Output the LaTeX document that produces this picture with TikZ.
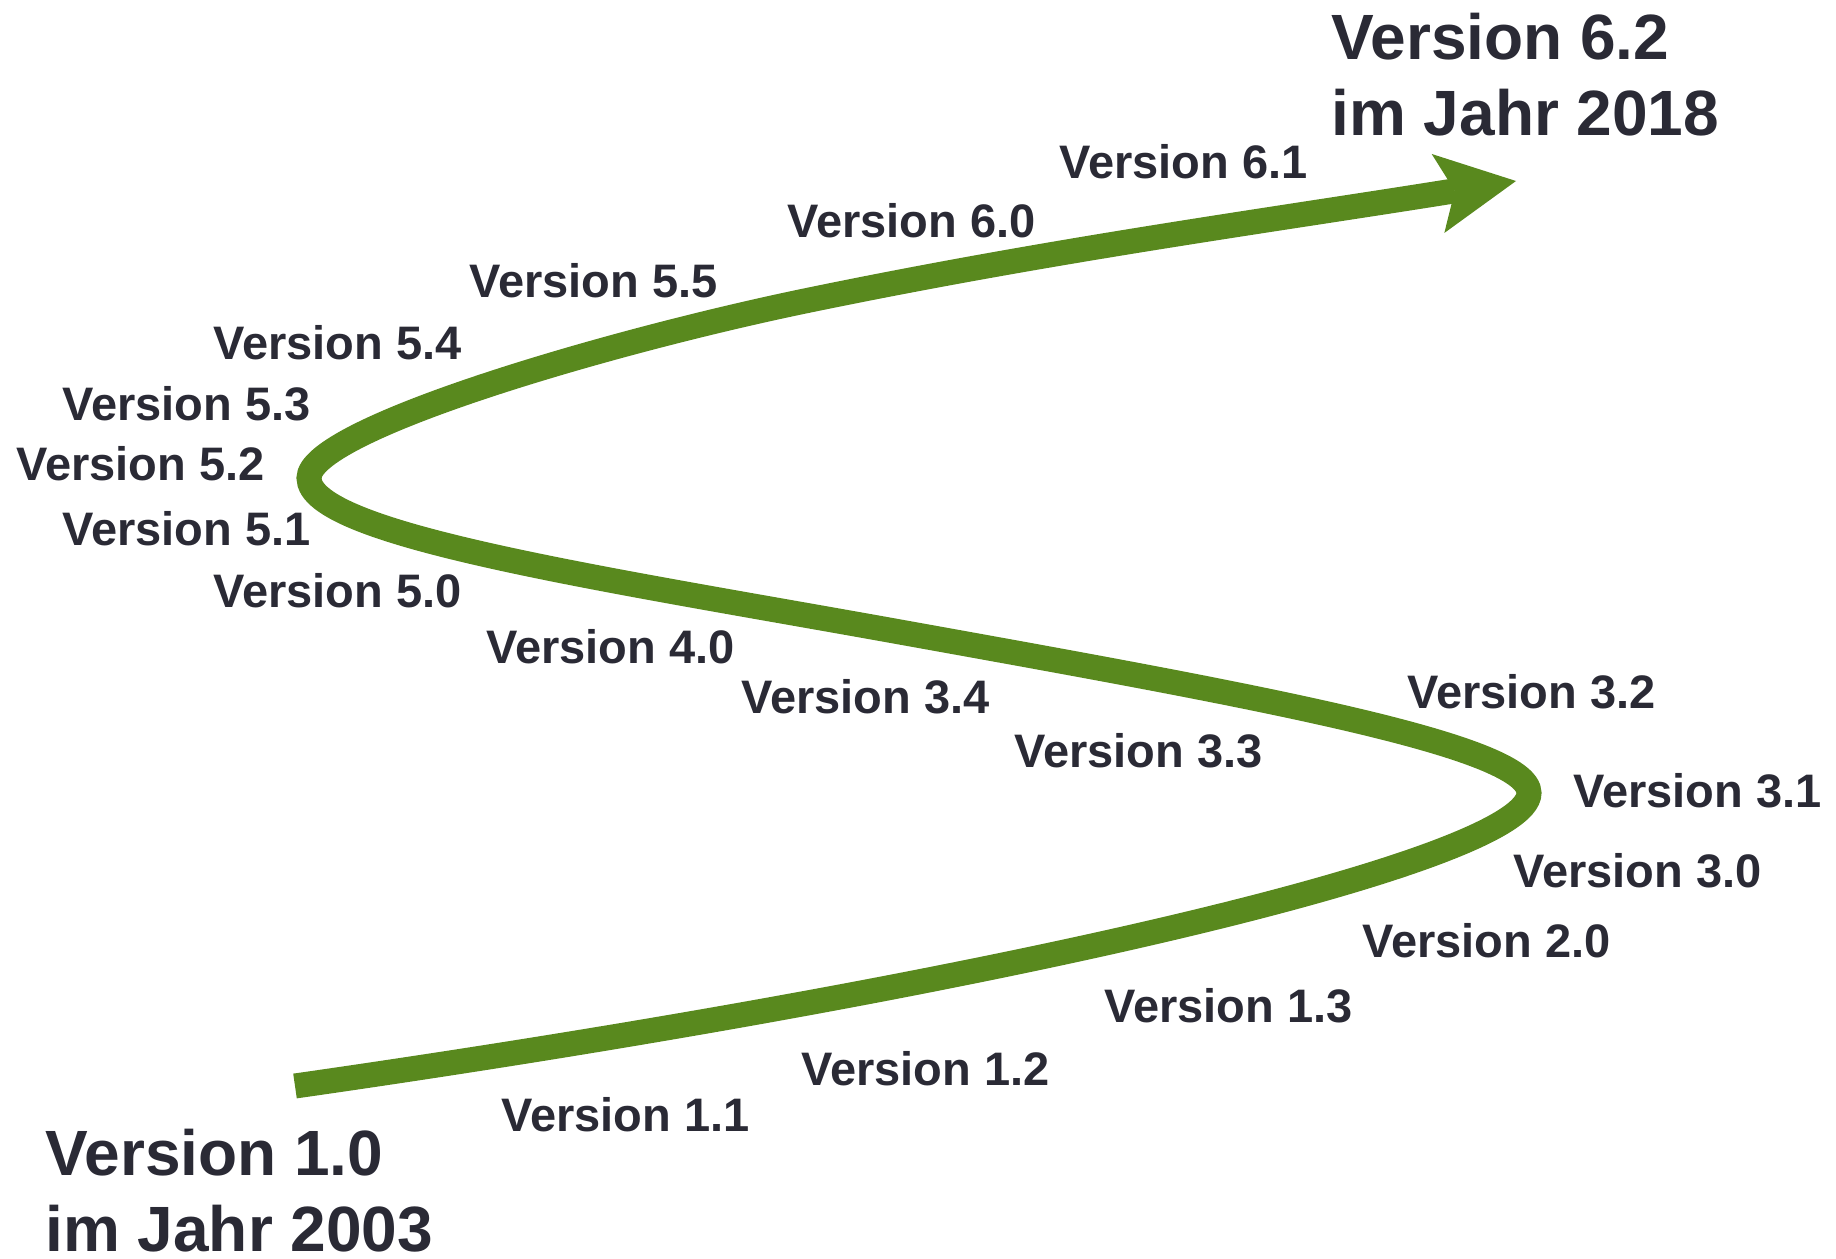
\documentclass[tikz,border=0pt]{standalone}
\usepackage{fontspec}
\setmainfont{Liberation Sans}
\usetikzlibrary{arrows.meta}
\definecolor{trackgreen}{RGB}{89,137,30}
\definecolor{labelink}{RGB}{42,42,53}
\begin{document}
\begin{tikzpicture}[x=0.5pt, y=-0.5pt,
    ver/.style={anchor=base west, inner sep=0pt, text=labelink,
        font=\bfseries\fontsize{23.5}{28}\selectfont},
    milestone/.style={anchor=north west, inner sep=0pt, align=left, text=labelink,
        font=\bfseries\fontsize{32}{38}\selectfont},
    track/.style={draw=trackgreen, line width=12.5pt,
        -{Stealth[length=39.5pt, width=40pt, inset=8.5pt, line width=0pt]}}]
    \useasboundingbox (0,0) rectangle (1836,1258);
    % path of the releases
    \coordinate (start) at (295,1086);
    \coordinate (turnR) at (1529,793);
    \coordinate (mid) at (900,632);
    \coordinate (turnL) at (309,478);
    \coordinate (upper) at (800,302);
    \coordinate (tip) at (1516,181);
    \draw[track] (start) .. controls (1000,985) and (1529,860) .. (turnR)
        .. controls (1529,745) and (1250,695) .. (mid)
        .. controls (600,578) and (309,535) .. (turnL)
        .. controls (309,430) and (600,344) .. (upper)
        .. controls (1050,250) and (1266,221) .. (tip);
    % milestones
    \node[milestone] (v10) at (45,1129) {Version 1.0\\im Jahr 2003};
    \node[milestone] (v62) at (1331,13) {Version 6.2\\im Jahr 2018};
    % releases
    \node[ver] (v11) at (501,1131) {Version 1.1};
    \node[ver] (v12) at (801,1085) {Version 1.2};
    \node[ver] (v13) at (1104,1022) {Version 1.3};
    \node[ver] (v20) at (1362,957) {Version 2.0};
    \node[ver] (v30) at (1513,887) {Version 3.0};
    \node[ver] (v31) at (1573,807) {Version 3.1};
    \node[ver] (v32) at (1407,708) {Version 3.2};
    \node[ver] (v33) at (1014,767) {Version 3.3};
    \node[ver] (v34) at (741,713) {Version 3.4};
    \node[ver] (v40) at (486,663) {Version 4.0};
    \node[ver] (v50) at (213,607) {Version 5.0};
    \node[ver] (v51) at (62,545) {Version 5.1};
    \node[ver] (v52) at (16,480) {Version 5.2};
    \node[ver] (v53) at (62,420) {Version 5.3};
    \node[ver] (v54) at (213,359) {Version 5.4};
    \node[ver] (v55) at (469,297) {Version 5.5};
    \node[ver] (v60) at (787,237) {Version 6.0};
    \node[ver] (v61) at (1059,178) {Version 6.1};
\end{tikzpicture}
\end{document}
